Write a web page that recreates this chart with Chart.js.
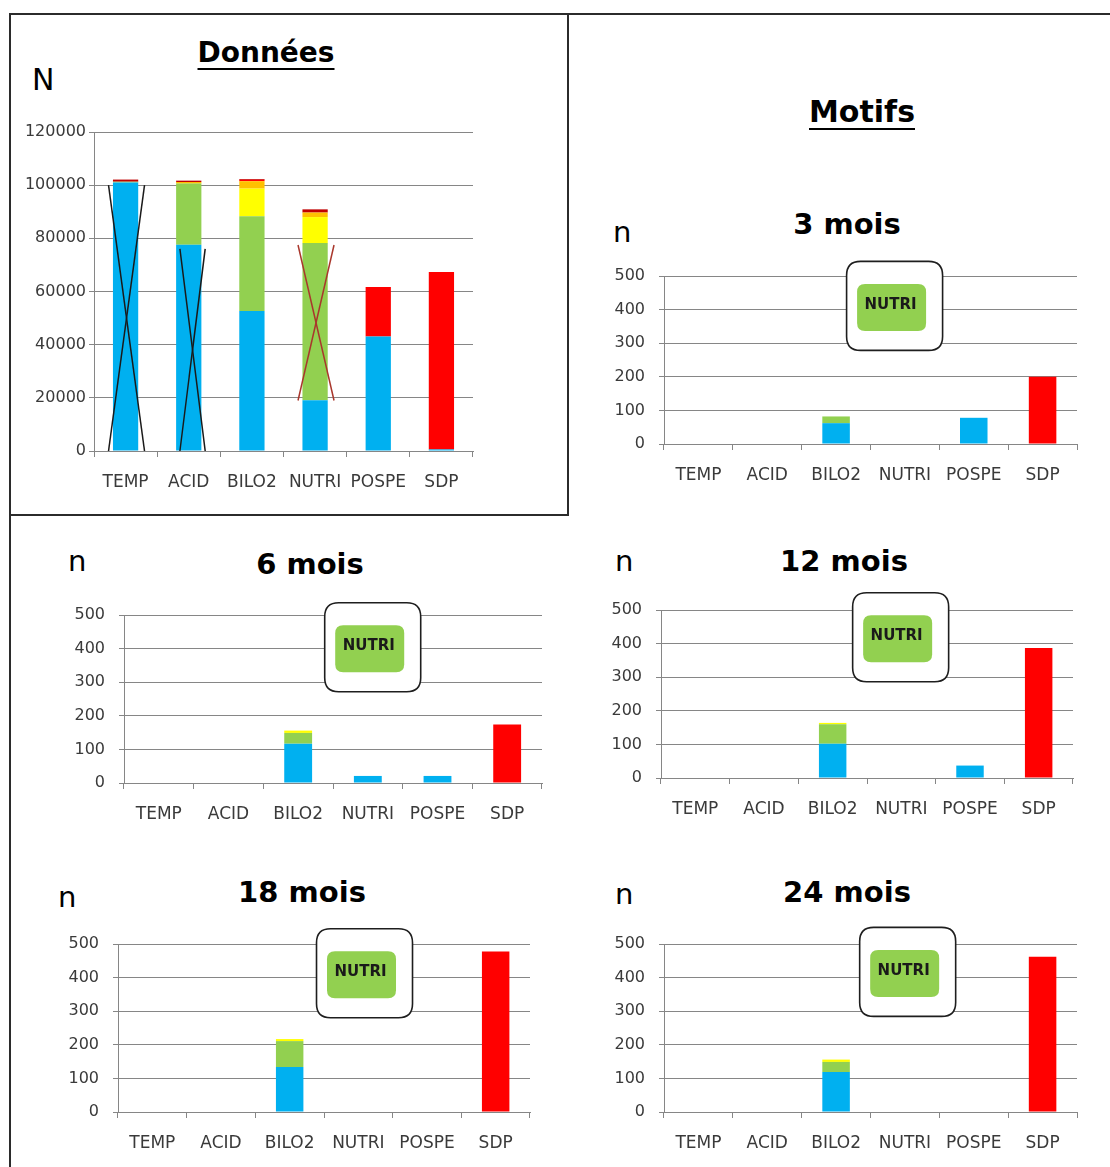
<!DOCTYPE html>
<html>
<head>
<meta charset="utf-8">
<script src="https://cdn.jsdelivr.net/npm/chart.js@4.4.1/dist/chart.umd.min.js"></script>
<style>
    html, body { margin: 0; padding: 0; background: #fff; }
    #page { position: relative; width: 1110px; height: 1167px; overflow: hidden; font-family: "DejaVu Sans", sans-serif; }
    .frame { position: absolute; border: 0 solid #2b2b2b; }
    .lbl { position: absolute; white-space: nowrap; line-height: 1; color: #000; }
    canvas { position: absolute; }
</style>
</head>
<body>
<div id="page"></div>
<script>
// categories shared by every chart
const categories = ['TEMP', 'ACID', 'BILO2', 'NUTRI', 'POSPE', 'SDP'];

// "Données" chart (N)
const nTicks = ['0', '20000', '40000', '60000', '80000', '100000', '120000'];
const nBlue    = [101000, 77600, 52700, 19100, 43100, 600];
const nGreen   = [300, 23000, 35600, 59100, 0, 0];
const nYellow  = [0, 0, 10400, 9800, 0, 0];
const nOrange  = [0, 600, 2800, 1700, 0, 0];
const nRed     = [0, 0, 500, 0, 18600, 66700];
const nDarkRed = [800, 500, 300, 1200, 0, 0];

// crossed-out bars on the "Données" chart
const crossCats = [0, 1, 3];
const crossLow  = [0, 0, 19000];
const crossHigh = [100000, 76000, 77500];

// "Motifs" charts (n)
const motifTicks = ['0', '100', '200', '300', '400', '500'];
const months = ['3 mois', '6 mois', '12 mois', '18 mois', '24 mois'];
const blue3   = [0, 0, 62, 0, 78, 0];
const green3  = [0, 0, 20, 0, 0, 0];
const yellow3 = [0, 0, 0, 0, 0, 0];
const red3    = [0, 0, 0, 0, 0, 200];
const blue6   = [0, 0, 117, 21, 21, 0];
const green6  = [0, 0, 32, 0, 0, 0];
const yellow6 = [0, 0, 7, 0, 0, 0];
const red6    = [0, 0, 0, 0, 0, 174];
const blue12   = [0, 0, 102, 0, 37, 0];
const green12  = [0, 0, 58, 0, 0, 0];
const yellow12 = [0, 0, 4, 0, 0, 0];
const red12    = [0, 0, 0, 0, 0, 387];
const blue18   = [0, 0, 134, 0, 0, 0];
const green18  = [0, 0, 77, 0, 0, 0];
const yellow18 = [0, 0, 6, 0, 0, 0];
const red18    = [0, 0, 0, 0, 0, 478];
const blue24   = [0, 0, 119, 0, 0, 0];
const green24  = [0, 0, 30, 0, 0, 0];
const yellow24 = [0, 0, 7, 0, 0, 0];
const red24    = [0, 0, 0, 0, 0, 462];

const FONT = '"DejaVu Sans", sans-serif';
const GRID = '#868686';
const TICK = '#3a3a3a';
const COLORS = { blue: '#00B0F0', green: '#92D050', yellow: '#FFFF00', orange: '#FFC000', red: '#FF0000', darkRed: '#C00000' };

const page = document.getElementById('page');

function addFrame(left, top, width, height, sides) {
    const d = document.createElement('div');
    d.className = 'frame';
    d.style.left = left + 'px';
    d.style.top = top + 'px';
    d.style.width = width + 'px';
    d.style.height = height + 'px';
    sides.forEach(s => d.style['border' + s + 'Width'] = '2px');
    page.appendChild(d);
}

function addText(s, x, baseline, size, weight, center, underline) {
    const d = document.createElement('div');
    d.className = 'lbl';
    d.textContent = s;
    d.style.fontSize = size + 'px';
    d.style.fontWeight = weight;
    d.style.top = (baseline - 0.846 * size) + 'px';
    d.style.left = x + 'px';
    if (center) d.style.transform = 'translateX(-50%)';
    if (underline) {
        d.style.textDecoration = 'underline';
        d.style.textDecorationThickness = '2px';
        d.style.textUnderlineOffset = '6px';
    }
    page.appendChild(d);
}

function roundRect(ctx, x, y, w, h, r) {
    ctx.beginPath();
    ctx.moveTo(x + r, y);
    ctx.lineTo(x + w - r, y);
    ctx.quadraticCurveTo(x + w, y, x + w, y + r);
    ctx.lineTo(x + w, y + h - r);
    ctx.quadraticCurveTo(x + w, y + h, x + w - r, y + h);
    ctx.lineTo(x + r, y + h);
    ctx.quadraticCurveTo(x, y + h, x, y + h - r);
    ctx.lineTo(x, y + r);
    ctx.quadraticCurveTo(x, y, x + r, y);
    ctx.closePath();
}

// the "NUTRI" callout box drawn over each Motifs chart
const calloutPlugin = {
    id: 'callout',
    afterDatasetsDraw(chart, args, opts) {
        if (!opts || !opts.text) return;
        const ctx = chart.ctx;
        const cx = chart.scales.x.getPixelForValue(opts.at[0]);
        const cy = chart.scales.y.getPixelForValue(opts.at[1]);
        ctx.save();
        roundRect(ctx, cx - 48, cy - 44.5, 96, 89, 14);
        ctx.fillStyle = '#fff';
        ctx.fill();
        ctx.lineWidth = 1.6;
        ctx.strokeStyle = '#1e1e1e';
        ctx.stroke();
        roundRect(ctx, cx - 37.5, cy - 22, 69, 47, 8);
        ctx.fillStyle = COLORS.green;
        ctx.fill();
        ctx.fillStyle = '#1a1a1a';
        ctx.font = 'bold 15px ' + FONT;
        ctx.textAlign = 'center';
        ctx.textBaseline = 'middle';
        ctx.fillText(opts.text, cx - 4, cy - 1);
        ctx.restore();
    }
};

function bar(label, data, color) {
    return {
        type: 'bar', label: label, data: data, xAxisID: 'x',
        backgroundColor: color, borderWidth: 0, grouped: false,
        barPercentage: 0.4, categoryPercentage: 1
    };
}

function makeChart(plot, yW, yPad, yMax, yStep, tickLabels, datasets, extraScales, plugins, pluginOpts) {
    const padTop = 24, padRight = 10, xH = 45;
    const left = plot[0] - yW, top = plot[1] - padTop;
    const width = plot[2] + padRight - left, height = plot[3] + xH - top;
    const canvas = document.createElement('canvas');
    canvas.width = width;
    canvas.height = height;
    canvas.style.left = left + 'px';
    canvas.style.top = top + 'px';
    canvas.style.width = width + 'px';
    canvas.style.height = height + 'px';
    page.appendChild(canvas);

    const scales = Object.assign({
        x: {
            type: 'category', stacked: true, offset: true,
            grid: { drawOnChartArea: false, drawTicks: true, tickLength: 6, color: GRID, offset: true },
            border: { color: GRID },
            ticks: { color: TICK, font: { family: FONT, size: 17 }, padding: 15, autoSkip: false, maxRotation: 0 },
            afterFit: s => { s.height = xH; s.paddingLeft = 0; s.paddingRight = 0; }
        },
        y: {
            min: 0, max: yMax, stacked: true,
            grid: { color: GRID, tickLength: 5 },
            border: { color: GRID },
            ticks: { stepSize: yStep, color: TICK, font: { family: FONT, size: 16 }, padding: yPad,
                     callback: (v, i) => tickLabels[i] },
            afterFit: s => { s.width = yW; s.paddingTop = 0; s.paddingBottom = 0; }
        }
    }, extraScales || {});

    return new Chart(canvas, {
        data: { labels: categories, datasets: datasets },
        options: {
            responsive: false,
            devicePixelRatio: 1,
            animation: false,
            layout: { padding: { top: padTop, right: padRight, left: 0, bottom: 0 } },
            scales: scales,
            plugins: Object.assign({ legend: { display: false }, tooltip: { enabled: false } }, pluginOpts || {})
        },
        plugins: plugins || []
    });
}

// outer frame and the boxed "Données" panel
addFrame(9, 13, 1110, 1160, ['Top', 'Left']);
addFrame(9, 13, 558, 501, ['Right', 'Bottom']);

// ---- Données ----
const crossDatasets = [];
crossCats.forEach((c, i) => {
    const color = i === 2 ? '#A9372C' : '#1a1a1a';
    const l = c - (i === 1 ? 0.14 : 0.27), r = c + (i === 1 ? 0.26 : 0.3);
    [[l, r], [r, l]].forEach((p, k) => {
        crossDatasets.push({
            type: 'line', label: 'croix ' + categories[c], xAxisID: 'xc', stack: 'cross' + i + k,
            data: [{ x: p[0], y: crossLow[i] }, { x: p[1], y: crossHigh[i] }],
            borderColor: color, borderWidth: 1.5, pointRadius: 0, fill: false, order: -1
        });
    });
});

makeChart([94, 132, 473, 451], 90, 3, 120000, 20000, nTicks, [
    bar('Série 1', nBlue, COLORS.blue),
    bar('Série 2', nGreen, COLORS.green),
    bar('Série 3', nYellow, COLORS.yellow),
    bar('Série 4', nOrange, COLORS.orange),
    bar('Série 5', nRed, COLORS.red),
    bar('Série 6', nDarkRed, COLORS.darkRed)
].concat(crossDatasets), {
    xc: { type: 'linear', display: false, min: -0.5, max: 5.5 }
});

addText('Données', 266, 63, 28, 'bold', true, true);
addText('N', 32, 90, 30, 'normal', false, false);
addText('Motifs', 862, 122, 30, 'bold', true, true);

// ---- Motifs panels ----
const panels = [
    { plot: [664, 276, 1077, 444], series: [blue3, green3, yellow3, red3], at: [2.85, 411], title: [847, 235], n: [613, 243] },
    { plot: [124, 615, 542, 783], series: [blue6, green6, yellow6, red6], at: [3.07, 404], title: [310, 575], n: [68, 572] },
    { plot: [661, 610, 1073, 778], series: [blue12, green12, yellow12, red12], at: [2.99, 419], title: [844, 572], n: [615, 572] },
    { plot: [118, 944, 530, 1112], series: [blue18, green18, yellow18, red18], at: [3.09, 413], title: [302, 903], n: [58, 908] },
    { plot: [664, 944, 1077, 1112], series: [blue24, green24, yellow24, red24], at: [3.04, 417], title: [847, 903], n: [615, 905] }
];

panels.forEach((p, i) => {
    makeChart(p.plot, 60, 14, 500, 100, motifTicks, [
        bar('Série 1', p.series[0], COLORS.blue),
        bar('Série 2', p.series[1], COLORS.green),
        bar('Série 3', p.series[2], COLORS.yellow),
        bar('Série 4', p.series[3], COLORS.red)
    ], null, [calloutPlugin], { callout: { text: 'NUTRI', at: p.at } });
    addText(months[i], p.title[0], p.title[1], 29, 'bold', true, false);
    addText('n', p.n[0], p.n[1], 29, 'normal', false, false);
});
</script>
</body>
</html>
